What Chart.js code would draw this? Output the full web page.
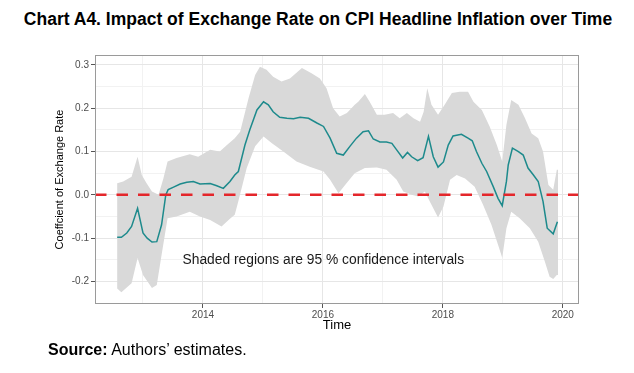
<!DOCTYPE html>
<html>
<head>
<meta charset="utf-8">
<script src="https://cdn.jsdelivr.net/npm/chart.js@4.4.1/dist/chart.umd.min.js"></script>
<style>
	html, body { margin: 0; padding: 0; background: #fff; }
	body { width: 634px; height: 373px; position: relative; overflow: hidden; font-family: "Liberation Sans", Arial, sans-serif; }
	#title { position: absolute; left: 0; top: 9px; width: 636px; text-align: center; font-weight: bold; font-size: 17.5px; color: #000; }
	#chart { position: absolute; left: 0; top: 0; }
	#source { position: absolute; left: 48px; top: 341px; font-size: 16px; color: #000; }
</style>
</head>
<body>
<div id="title">Chart A4. Impact of Exchange Rate on CPI Headline Inflation over Time</div>
<canvas id="chart" width="634" height="373"></canvas>
<div id="source"><b>Source:</b> Authors’ estimates.</div>
<script>
// coefficient (decimal years)
const lineTime = [2012.57, 2012.64, 2012.73, 2012.81, 2012.91, 2013.00, 2013.07, 2013.15, 2013.23, 2013.31,
	2013.38, 2013.42, 2013.51, 2013.62, 2013.73, 2013.84, 2013.95, 2014.12, 2014.23, 2014.34,
	2014.45, 2014.53, 2014.59, 2014.70, 2014.78, 2014.90, 2015.01, 2015.09, 2015.17, 2015.28,
	2015.40, 2015.51, 2015.62, 2015.76, 2015.90, 2016.01, 2016.12, 2016.23, 2016.34, 2016.45,
	2016.56, 2016.67, 2016.76, 2016.84, 2016.95, 2017.06, 2017.15, 2017.23, 2017.33, 2017.41,
	2017.48, 2017.58, 2017.67, 2017.76, 2017.84, 2017.92, 2018.01, 2018.09, 2018.17, 2018.31,
	2018.42, 2018.49, 2018.56, 2018.65, 2018.73, 2018.84, 2018.92, 2018.99, 2019.06, 2019.09,
	2019.16, 2019.26, 2019.34, 2019.42, 2019.51, 2019.59, 2019.67, 2019.74, 2019.84, 2019.91];
const lineCoef = [-0.098, -0.098, -0.088, -0.073, -0.031, -0.088, -0.100, -0.109, -0.108, -0.069,
	0.000, 0.012, 0.018, 0.025, 0.029, 0.031, 0.025, 0.026, 0.021, 0.015,
	0.031, 0.046, 0.054, 0.115, 0.150, 0.196, 0.215, 0.208, 0.192, 0.179,
	0.177, 0.176, 0.179, 0.177, 0.166, 0.158, 0.131, 0.096, 0.092, 0.112,
	0.131, 0.146, 0.148, 0.129, 0.122, 0.122, 0.119, 0.104, 0.085, 0.098,
	0.088, 0.079, 0.086, 0.135, 0.088, 0.064, 0.076, 0.115, 0.136, 0.140,
	0.131, 0.125, 0.100, 0.073, 0.054, 0.019, -0.008, -0.025, 0.031, 0.069,
	0.108, 0.100, 0.092, 0.062, 0.046, 0.031, -0.015, -0.077, -0.090, -0.062];

// 95% band, upper edge
const upperTime = [2012.57, 2012.67, 2012.81, 2012.91, 2012.98, 2013.06, 2013.15, 2013.26, 2013.34, 2013.41,
	2013.56, 2013.78, 2013.92, 2014.12, 2014.28, 2014.40, 2014.53, 2014.62, 2014.76, 2014.87,
	2014.95, 2015.06, 2015.17, 2015.31, 2015.45, 2015.65, 2015.81, 2015.95, 2016.06, 2016.17,
	2016.28, 2016.40, 2016.53, 2016.59, 2016.70, 2016.78, 2016.90, 2017.03, 2017.17, 2017.28,
	2017.40, 2017.51, 2017.62, 2017.68, 2017.74, 2017.81, 2017.92, 2018.03, 2018.15, 2018.28,
	2018.42, 2018.51, 2018.65, 2018.78, 2018.90, 2018.99, 2019.06, 2019.14, 2019.26, 2019.37,
	2019.48, 2019.59, 2019.67, 2019.76, 2019.84, 2019.90, 2019.92];
const upperCoef = [0.027, 0.031, 0.042, 0.088, 0.046, 0.027, 0.008, 0.000, 0.038, 0.077,
	0.085, 0.094, 0.088, 0.104, 0.100, 0.115, 0.131, 0.146, 0.223, 0.277,
	0.296, 0.289, 0.273, 0.262, 0.269, 0.293, 0.281, 0.269, 0.246, 0.200,
	0.181, 0.189, 0.208, 0.215, 0.233, 0.215, 0.185, 0.185, 0.189, 0.177,
	0.189, 0.177, 0.169, 0.192, 0.246, 0.208, 0.185, 0.208, 0.235, 0.238,
	0.238, 0.215, 0.196, 0.158, 0.115, 0.077, 0.162, 0.219, 0.208, 0.177,
	0.142, 0.131, 0.100, 0.023, 0.012, 0.058, 0.058];

// 95% band, lower edge
const lowerTime = [2012.57, 2012.64, 2012.81, 2012.91, 2013.00, 2013.15, 2013.23, 2013.31, 2013.41, 2013.56,
	2013.78, 2013.95, 2014.12, 2014.31, 2014.45, 2014.53, 2014.59, 2014.73, 2014.87, 2015.01,
	2015.15, 2015.34, 2015.56, 2015.78, 2016.01, 2016.12, 2016.26, 2016.37, 2016.53, 2016.70,
	2016.90, 2017.06, 2017.23, 2017.34, 2017.48, 2017.59, 2017.70, 2017.78, 2017.92, 2018.01,
	2018.12, 2018.23, 2018.37, 2018.53, 2018.67, 2018.81, 2018.92, 2018.99, 2019.06, 2019.14,
	2019.28, 2019.45, 2019.59, 2019.70, 2019.78, 2019.84, 2019.90, 2019.92];
const lowerCoef = [-0.216, -0.225, -0.204, -0.146, -0.185, -0.215, -0.208, -0.139, -0.054, -0.050,
	-0.039, -0.050, -0.058, -0.073, -0.055, -0.046, -0.015, 0.062, 0.112, 0.135,
	0.119, 0.100, 0.077, 0.065, 0.054, 0.035, 0.004, 0.023, 0.050, 0.062,
	0.063, 0.058, 0.035, 0.008, 0.000, -0.004, 0.008, -0.015, -0.052, -0.027,
	0.035, 0.046, 0.038, 0.019, -0.023, -0.069, -0.115, -0.145, -0.077, -0.039,
	-0.054, -0.077, -0.108, -0.154, -0.189, -0.194, -0.185, -0.185];

const noteText = 'Shaded regions are 95 % confidence intervals';
const noteAt = [2013.66, -0.150];

const FONT = 'Liberation Sans';

function toPoints(xs, ys) {
	return xs.map((t, i) => ({ x: t, y: ys[i] }));
}

// band = upper edge forward, lower edge back
const bandPoints = toPoints(upperTime, upperCoef).concat(toPoints(lowerTime, lowerCoef).reverse());

const overlay = {
	id: 'overlay',
	afterDatasetsDraw(chart) {
		const { ctx, chartArea: a, scales: { x, y } } = chart;
		ctx.save();

		const y0 = y.getPixelForValue(0);
		ctx.strokeStyle = '#e4262b';
		ctx.lineWidth = 2.5;
		ctx.setLineDash([11.5, 10]);
		ctx.beginPath();
		ctx.moveTo(a.left, y0);
		ctx.lineTo(a.right, y0);
		ctx.stroke();
		ctx.setLineDash([]);

		ctx.fillStyle = '#1a1a1a';
		ctx.font = '13.8px "' + FONT + '"';
		ctx.textBaseline = 'middle';
		ctx.fillText(noteText, x.getPixelForValue(noteAt[0]), y.getPixelForValue(noteAt[1]));

		ctx.strokeStyle = '#9a9a9a';
		ctx.lineWidth = 1;
		ctx.strokeRect(a.left + 0.5, a.top + 0.5, a.right - a.left - 1, a.bottom - a.top - 1);
		ctx.restore();
	}
};

function isMajorY(v) {
	return Math.round(v * 100) % 10 === 0;
}

new Chart(document.getElementById('chart'), {
	type: 'line',
	data: {
		datasets: [
			{
				data: toPoints(lineTime, lineCoef),
				borderColor: '#1d8a8c',
				borderWidth: 1.5,
				pointRadius: 0,
				tension: 0,
				fill: false,
				order: 0
			},
			{
				data: bandPoints,
				borderWidth: 0,
				borderColor: 'rgba(0,0,0,0)',
				backgroundColor: '#d9d9d9',
				pointRadius: 0,
				tension: 0,
				fill: 'shape',
				order: 1
			}
		]
	},
	options: {
		responsive: false,
		animation: false,
		devicePixelRatio: 1,
		layout: { padding: { left: 0, top: 55, right: 55, bottom: 40 } },
		plugins: { legend: { display: false }, tooltip: { enabled: false } },
		scales: {
			x: {
				type: 'linear',
				min: 2012.2,
				max: 2020.27,
				afterFit(s) { s.height = 29; },
				border: { display: false },
				grid: {
					color: (c) => (c.tick && c.tick.value % 2 === 0 ? '#e6e6e6' : '#f2f2f2'),
					tickColor: (c) => (c.tick && c.tick.value % 2 === 0 ? '#555' : 'rgba(0,0,0,0)'),
					tickLength: 4
				},
				ticks: {
					stepSize: 1,
					includeBounds: false,
					autoSkip: false,
					maxRotation: 0,
					padding: 1,
					color: '#4d4d4d',
					font: { family: FONT, size: 10 },
					callback: (v) => (v % 2 === 0 ? String(v) : '')
				},
				title: {
					display: true,
					text: 'Time',
					color: '#000',
					font: { family: FONT, size: 13 },
					padding: { top: 0, bottom: 0 }
				}
			},
			y: {
				min: -0.252,
				max: 0.323,
				afterFit(s) { s.width = 95; },
				border: { display: false },
				grid: {
					color: (c) => (c.tick && isMajorY(c.tick.value) ? '#e6e6e6' : '#f2f2f2'),
					tickColor: (c) => (c.tick && isMajorY(c.tick.value) ? '#555' : 'rgba(0,0,0,0)'),
					tickLength: 4
				},
				ticks: {
					stepSize: 0.05,
					includeBounds: false,
					autoSkip: false,
					padding: 2,
					color: '#4d4d4d',
					font: { family: FONT, size: 10 },
					callback: (v) => (isMajorY(v) ? (Math.round(v * 10) / 10).toFixed(1) : '')
				},
				title: {
					display: true,
					text: 'Coeffcient of Exchange Rate',
					color: '#000',
					font: { family: FONT, size: 11 },
					padding: { top: 53.5, bottom: 0 }
				}
			}
		}
	},
	plugins: [overlay]
});
</script>
</body>
</html>
